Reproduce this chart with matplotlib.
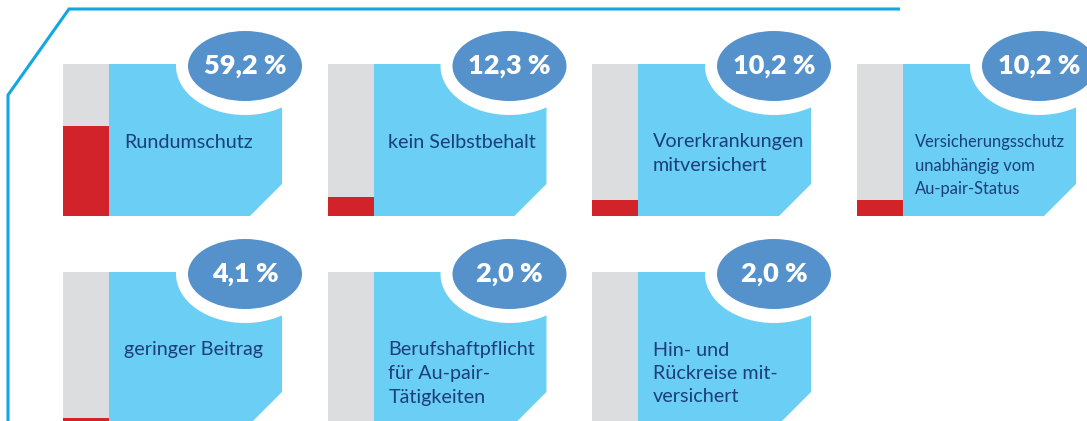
import matplotlib
matplotlib.use("Agg")
import matplotlib.pyplot as plt
from matplotlib.patches import Ellipse, Polygon

# Survey shares (%) per insurance feature
labels = [
    "Rundumschutz",
    "kein Selbstbehalt",
    "Vorerkrankungen\nmitversichert",
    "Versicherungsschutz\nunabhängig vom\nAu-pair-Status",
    "geringer Beitrag",
    "Berufshaftpflicht\nfür Au-pair-\nTätigkeiten",
    "Hin- und\nRückreise mit-\nversichert",
]
values = [59.2, 12.3, 10.2, 10.2, 4.1, 2.0, 2.0]
value_labels = ["59,2 %", "12,3 %", "10,2 %", "10,2 %", "4,1 %", "2,0 %", "2,0 %"]

W, H = 1087, 421
GREY = "#dcdddf"
RED = "#d2232a"
LIGHT = "#6bcef5"
OVAL = "#5592cb"
TEXT = "#1b3f78"
FRAME = "#12a6e2"

fig = plt.figure(figsize=(W / 100, H / 100), dpi=100)
ax = fig.add_axes([0, 0, 1, 1])
ax.set_xlim(0, W)
ax.set_ylim(H, 0)
ax.axis("off")

# outer frame with cut corner
ax.plot([8, 8, 69, 900], [H + 5, 95, 9, 9], color=FRAME, lw=2.2,
        solid_capstyle="butt", solid_joinstyle="miter")

col_x = [63, 327.5, 592, 857]
row_y = [64, 272]
bar_w, box_w, box_h = 46, 173, 152

for i, (lab, val, vlab) in enumerate(zip(labels, values, value_labels)):
    x0 = col_x[i % 4]
    y0 = row_y[i // 4]
    bx = x0 + bar_w
    # light blue box with chamfered lower-right corner
    poly = [(bx, y0), (bx + box_w, y0), (bx + box_w, y0 + 120),
            (bx + box_w - 32, y0 + box_h), (bx, y0 + box_h)]
    ax.add_patch(Polygon(poly, closed=True, facecolor=LIGHT, edgecolor="none", zorder=1))
    # oval badge with white halo
    cx, cy = x0 + 182, y0 + 2
    ax.add_patch(Ellipse((cx, cy), 138, 98, facecolor="white", edgecolor="none", zorder=2))
    ax.add_patch(Ellipse((cx, cy), 114, 70, facecolor=OVAL, edgecolor="none", zorder=3))
    ax.text(cx, cy, vlab, color="white", fontsize=19.5, fontweight="heavy",
            family="Lato", ha="center", va="center", zorder=4)
    # feature label, one line at a time
    small = len(lab.split("\n")[0]) > 17
    fs = 11.9 if small else 14.2
    for k, line in enumerate(lab.split("\n")):
        ax.text(bx + (12 if small else 15), y0 + 78 + k * 23.5, line,
                color=TEXT, fontsize=fs, family="Lato",
                ha="left", va="center", zorder=4)
    # share bar: grey track with red fill on a 0-100 scale
    bax = fig.add_axes([x0 / W, 1 - (y0 + box_h) / H, bar_w / W, box_h / H])
    bax.set_xlim(-0.5, 0.5)
    bax.set_ylim(0, 100)
    bax.axis("off")
    bax.bar(0, 100, width=1, color=GREY)
    bax.bar(0, val, width=1, color=RED)

fig.savefig("out.png", dpi=100)
